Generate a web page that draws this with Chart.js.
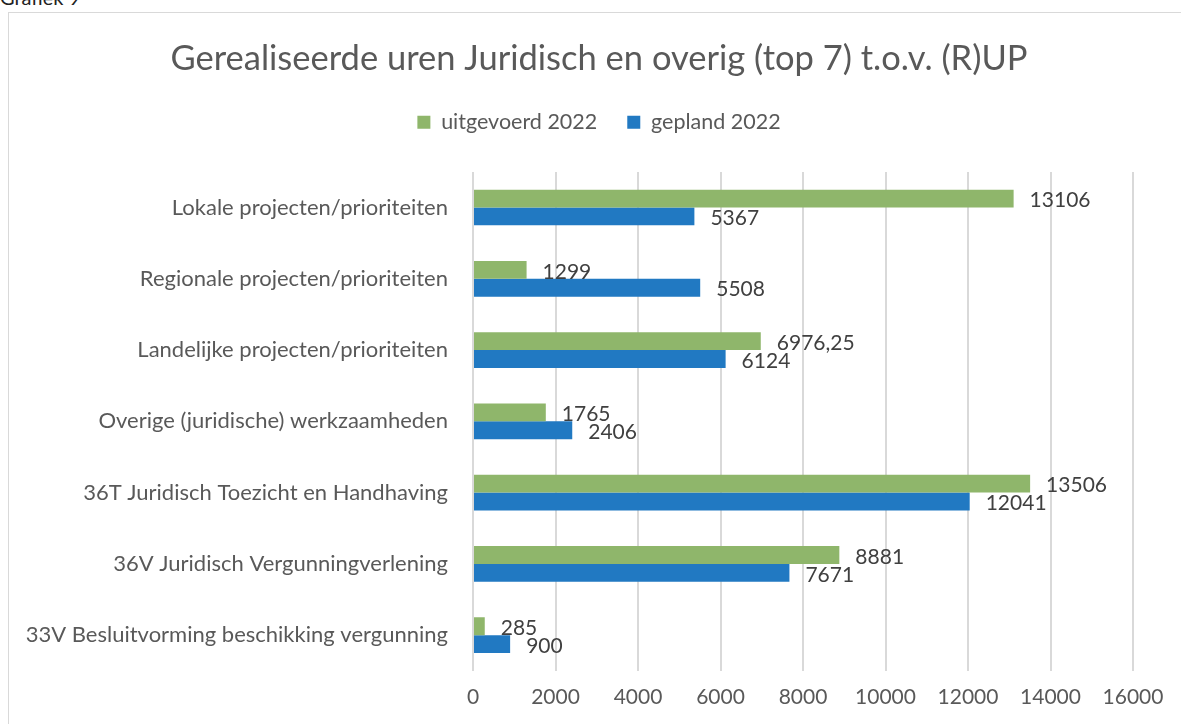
<!DOCTYPE html>
<html>
<head>
<meta charset="utf-8">
<script src="https://cdn.jsdelivr.net/npm/chart.js@4/dist/chart.umd.min.js"></script>
<style>
  html, body { margin: 0; padding: 0; background: #fff; overflow: hidden; width: 1181px; height: 724px; }
  #kop { position: absolute; left: 0; top: -15px; font-family: Lato, sans-serif; font-size: 20px; color: #222; }
  #kader { position: absolute; left: 8px; top: 12px; width: 1200px; height: 800px; border: 1px solid #d9d9d9; }
  #wrap { position: absolute; left: 8px; top: 0; width: 1182px; height: 724px; }
</style>
</head>
<body>
<div id="kop">Grafiek 9</div>
<div id="kader"></div>
<div id="wrap"><canvas id="myCanvas" width="1182" height="724"></canvas></div>
<script>
// Categorieen en waarden
let categorieen = [
    "Lokale projecten/prioriteiten",
    "Regionale projecten/prioriteiten",
    "Landelijke projecten/prioriteiten",
    "Overige (juridische) werkzaamheden",
    "36T Juridisch Toezicht en Handhaving",
    "36V Juridisch Vergunningverlening",
    "33V Besluitvorming beschikking vergunning"
];

let uitgevoerd = [13106, 1299, 6976.25, 1765, 13506, 8881, 285];
let gepland = [5367, 5508, 6124, 2406, 12041, 7671, 900];

let tickWaarden = [0, 2000, 4000, 6000, 8000, 10000, 12000, 14000, 16000];

Chart.defaults.font.family = 'Lato';
Chart.defaults.font.size = 21;
Chart.defaults.color = '#595959';

// labels naast de balken
const labelsPlugin = {
    id: 'balkLabels',
    afterDatasetsDraw(chart) {
        const ctx = chart.ctx;
        ctx.save();
        ctx.font = '21px Lato';
        ctx.fillStyle = '#404040';
        ctx.textAlign = 'left';
        ctx.textBaseline = 'middle';
        chart.data.datasets.forEach((ds, i) => {
            chart.getDatasetMeta(i).data.forEach((bar, j) => {
                let tekst = String(ds.data[j]).replace('.', ',');
                ctx.fillText(tekst, bar.x + 16, bar.y + 2);
            });
        });
        ctx.restore();
    }
};

// extra ruimte onder de legenda
const legendaRuimte = {
    id: 'legendaRuimte',
    beforeInit(chart) {
        const fit = chart.legend.fit;
        chart.legend.fit = function () {
            fit.bind(chart.legend)();
            this.height += 29;
        };
    }
};

let chart = new Chart(document.getElementById("myCanvas").getContext('2d'), {
    type: 'bar',
    data: {
        labels: categorieen,
        datasets: [{
            label: "uitgevoerd 2022",
            data: uitgevoerd,
            backgroundColor: '#8FB66B',
            yAxisID: 'y'
        }, {
            label: "gepland 2022",
            data: gepland,
            backgroundColor: '#2179C2',
            yAxisID: 'y'
        }]
    },
    options: {
        indexAxis: 'y',
        responsive: false,
        animation: false,
        maintainAspectRatio: false,
        layout: { padding: 0 },
        datasets: { bar: { categoryPercentage: 0.5, barPercentage: 1 } },
        plugins: {
            title: {
                display: true,
                text: 'Gerealiseerde uren Juridisch en overig (top 7) t.o.v. (R)UP',
                font: { size: 34.5, weight: 'normal' },
                color: '#595959',
                padding: { top: 38, bottom: 2 }
            },
            legend: {
                display: true,
                position: 'top',
                labels: { boxWidth: 13, boxHeight: 13, padding: 30, color: '#595959', font: { size: 21.5 } }
            },
            tooltip: { enabled: false }
        },
        scales: {
            x: {
                min: 0,
                max: 16000,
                afterBuildTicks(axis) { axis.ticks = tickWaarden.map(v => ({ value: v })); },
                grid: { color: '#d9d9d9', lineWidth: 2, drawTicks: false },
                border: { display: false },
                ticks: { padding: 14, color: '#595959', callback: (v) => String(v) }
            },
            y: {
                grid: { display: false },
                border: { display: false },
                ticks: { padding: 17, color: '#595959', font: { size: 22 } },
                afterFit(axis) { axis.width = 465; }
            },
            // lege as rechts, alleen voor de witruimte
            rechts: {
                type: 'category',
                position: 'right',
                grid: { display: false },
                border: { display: false },
                ticks: { display: false },
                afterFit(axis) { axis.width = 57; }
            }
        }
    },
    plugins: [labelsPlugin, legendaRuimte]
});
</script>
</body>
</html>
